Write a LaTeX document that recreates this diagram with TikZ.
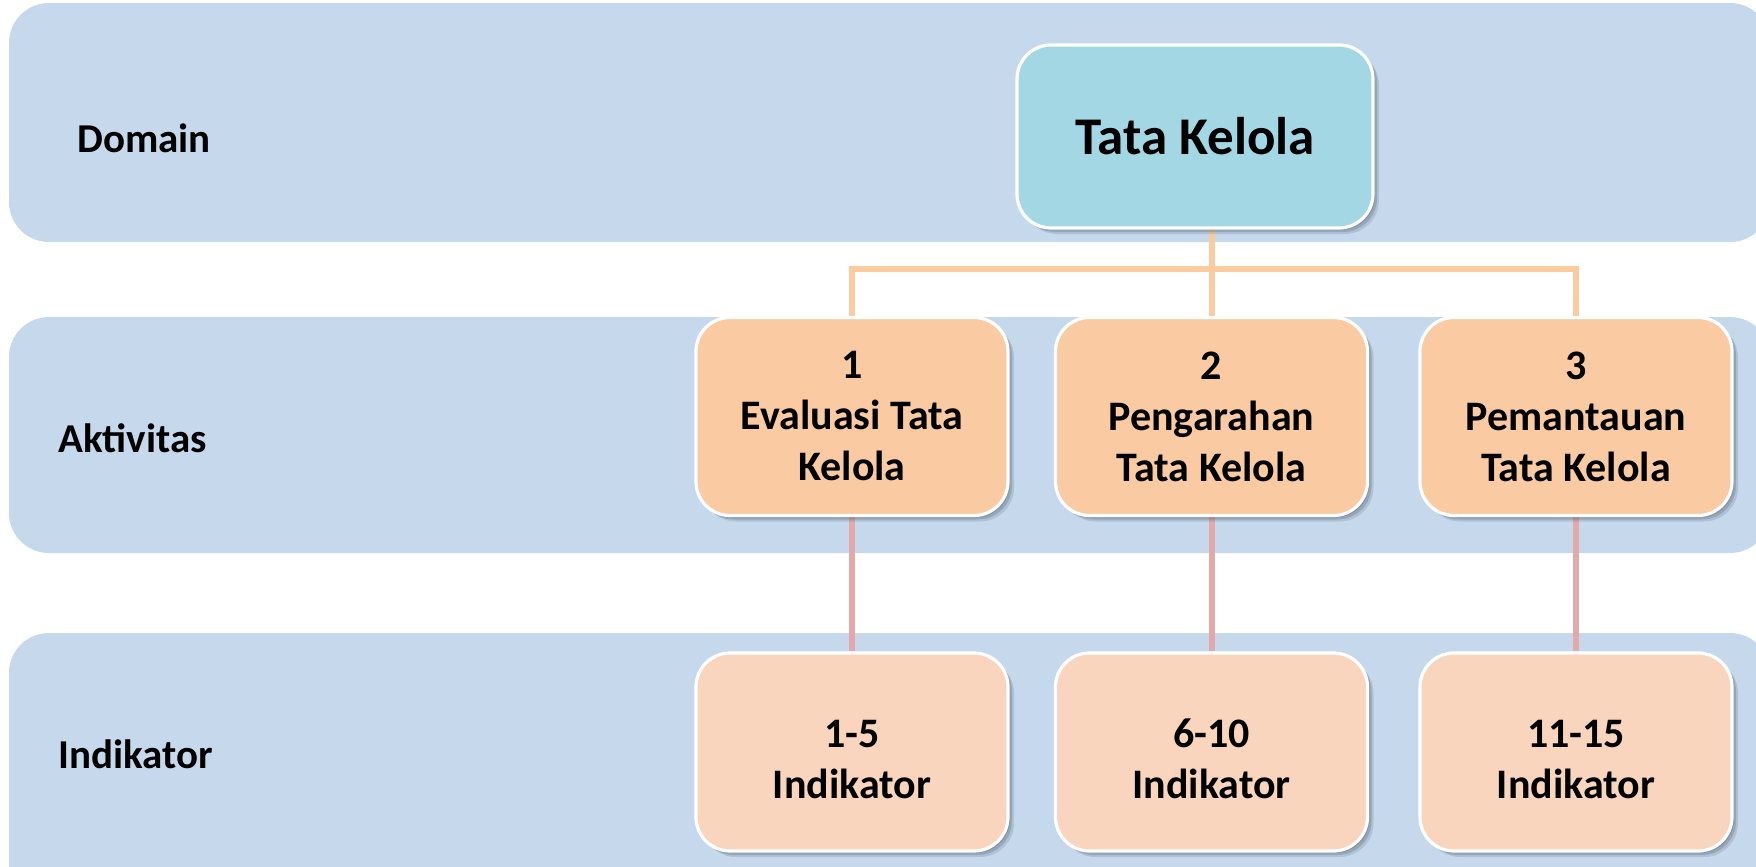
\documentclass[tikz,border=0pt]{standalone}
\usepackage{fontspec}
\setmainfont{Carlito}
\usetikzlibrary{shadows}
\pgfdeclarelayer{bg}
\pgfdeclarelayer{conn}
\pgfsetlayers{bg,conn,main}
\newcommand\tallstrut{\rule{0pt}{21pt}}
\definecolor{bandc}{HTML}{C6D9EC}
\definecolor{topc}{HTML}{A4D7E4}
\definecolor{midc}{HTML}{FACAA3}
\definecolor{botc}{HTML}{F9D5BE}
\definecolor{orangec}{HTML}{FBCBA0}
\definecolor{pinkc}{HTML}{E2A9A8}
\definecolor{shadc}{HTML}{4A5868}
\tikzset{
  boxbase/.style={draw=white, line width=1.6pt, rounded corners=17pt, align=center,
    general shadow={fill=shadc, opacity=0.18, shadow xshift=3pt, shadow yshift=-3pt},
    general shadow={fill=shadc, opacity=0.25, shadow xshift=2pt, shadow yshift=-2pt},
    general shadow={fill=shadc, opacity=0.25, shadow xshift=1pt, shadow yshift=-1pt}},
  topbox/.style={boxbase, fill=topc, minimum width=178pt, minimum height=91.5pt,
    font=\fontsize{26.5}{32}\selectfont\bfseries},
  midbox/.style={boxbase, fill=midc, minimum width=156pt, minimum height=99pt,
    font=\fontsize{21}{25.5}\selectfont\bfseries},
  botbox/.style={boxbase, fill=botc, minimum width=156pt, minimum height=99pt,
    font=\fontsize{21}{25.5}\selectfont\bfseries},
  bandlabel/.style={anchor=base west, inner sep=0pt, font=\fontsize{20.5}{25}\selectfont\bfseries},
  orangeline/.style={draw=orangec, line width=3pt},
  pinkline/.style={draw=pinkc, line width=3pt}
}
\begin{document}
\begin{tikzpicture}[x=0.5pt,y=-0.5pt]
\useasboundingbox (0,0) rectangle (1756,867);
\begin{pgfonlayer}{bg}
\begin{scope}
\clip (0,0) rectangle (1756,867);
\fill[white] (0,0) rectangle (1756,867);
\fill[bandc, rounded corners=20pt] (9,3) rectangle (1770,242);
\fill[bandc, rounded corners=20pt] (9,317) rectangle (1770,553);
\fill[bandc, rounded corners=20pt] (9,633) rectangle (1770,930);
\end{scope}
\end{pgfonlayer}
\node[bandlabel] (ldomain) at (77,152) {Domain};
\node[bandlabel] (lakt) at (58,452) {Aktivitas};
\node[bandlabel] (lind) at (58,768) {Indikator};

\node[topbox] (top) at (1195,136.5) {Tata Kelola};
\node[midbox] (mid1) at (852,416.5) {1\\Evaluasi Tata\\Kelola};
\node[midbox] (mid2) at (1211.5,416.5) {2\\Pengarahan\\Tata Kelola};
\node[midbox] (mid3) at (1576,416.5) {3\\Pemantauan\\Tata Kelola};
\node[botbox] (bot1) at (852,752) {\tallstrut1-5\\Indikator};
\node[botbox] (bot2) at (1211.5,752) {\tallstrut6-10\\Indikator};
\node[botbox] (bot3) at (1576,752) {\tallstrut11-15\\Indikator};

\coordinate (busy) at (0,269);
\coordinate (bus) at (mid2.north |- busy);
\begin{pgfonlayer}{conn}
\draw[orangeline] (mid2.north) -- (mid2.north |- top.south);
\draw[orangeline] (mid1.north) |- (bus) -| (mid3.north);
\draw[pinkline] (mid1.south) -- (bot1.north);
\draw[pinkline] (mid2.south) -- (bot2.north);
\draw[pinkline] (mid3.south) -- (bot3.north);
\end{pgfonlayer}
\end{tikzpicture}
\end{document}
